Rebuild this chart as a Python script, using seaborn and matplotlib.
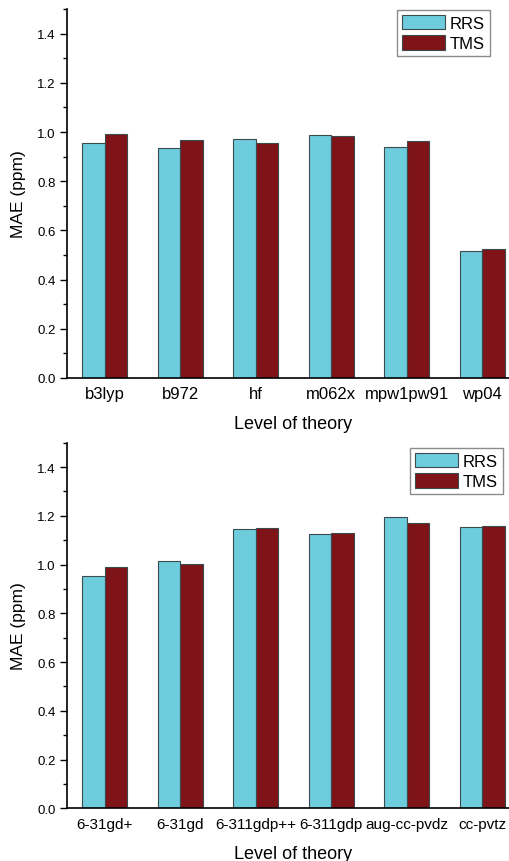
import matplotlib
matplotlib.use("Agg")
import matplotlib.pyplot as plt
import seaborn as sns
import pandas as pd
from matplotlib.ticker import MultipleLocator, FormatStrFormatter
from matplotlib.patches import Patch

sns.set_theme(style="ticks")
plt.rcParams['font.family'] = ['Liberation Sans', 'DejaVu Sans']
plt.rcParams['text.color'] = 'black'
plt.rcParams['axes.labelcolor'] = 'black'
plt.rcParams['xtick.color'] = 'black'
plt.rcParams['ytick.color'] = 'black'

series = ["RRS", "TMS"]
colors = ["#6ECDDC", "#7E1418"]

functionals = ["b3lyp", "b972", "hf", "m062x", "mpw1pw91", "wp04"]
func_rrs = [0.956, 0.936, 0.970, 0.988, 0.941, 0.518]
func_tms = [0.992, 0.967, 0.956, 0.984, 0.962, 0.526]

basis_sets = ["6-31gd+", "6-31gd", "6-311gdp++", "6-311gdp", "aug-cc-pvdz", "cc-pvtz"]
basis_rrs = [0.954, 1.016, 1.144, 1.124, 1.195, 1.155]
basis_tms = [0.991, 1.003, 1.150, 1.128, 1.169, 1.157]

y_label = "MAE (ppm)"
x_label = "Level of theory"


def make_df(cats, rrs, tms):
    return pd.DataFrame({
        "cat": cats * 2,
        "series": [series[0]] * len(cats) + [series[1]] * len(cats),
        "value": list(rrs) + list(tms),
    })


fig = plt.figure(figsize=(5.10, 8.62), dpi=100)
W, H = 510, 862
ax1 = fig.add_axes([67 / W, 1 - 379 / H, 453 / W, 369 / H])
ax2 = fig.add_axes([67 / W, 1 - 809.3 / H, 453 / W, 365.6 / H])

panels = [
    (ax1, make_df(functionals, func_rrs, func_tms), (490 / W, 1 - 10.5 / H), 12),
    (ax2, make_df(basis_sets, basis_rrs, basis_tms), (503 / W, 1 - 448.5 / H), 11),
]

for ax, df, leg_anchor, xfs in panels:
    sns.barplot(data=df, x="cat", y="value", hue="series", palette=colors,
                saturation=1, width=0.6, gap=0, ax=ax, edgecolor="#3c4a4e",
                linewidth=0.8, legend=False)
    ax.set_xlim(-0.5, 5.5)
    ax.set_ylim(0, 1.5)
    ax.set_yticks([0, 0.2, 0.4, 0.6, 0.8, 1.0, 1.2, 1.4])
    ax.yaxis.set_minor_locator(MultipleLocator(0.1))
    ax.yaxis.set_major_formatter(FormatStrFormatter("%.1f"))
    ax.tick_params(axis="y", which="major", direction="out", length=5, width=1,
                   labelsize=9.5, colors="black", pad=3)
    ax.tick_params(axis="y", which="minor", direction="out", length=3, width=1,
                   left=True, colors="black")
    ax.tick_params(axis="x", length=0, labelsize=xfs, pad=6, colors="black")
    sns.despine(ax=ax, top=True, right=True)
    for s in ["left", "bottom"]:
        ax.spines[s].set_linewidth(1.2)
        ax.spines[s].set_color("black")
    ax.set_ylabel(y_label, fontsize=12.5, labelpad=8, color="black")
    ax.set_xlabel(x_label, fontsize=13, labelpad=10, color="black")
    handles = [Patch(facecolor=c, edgecolor="#3c4a4e", linewidth=0.8) for c in colors]
    leg = ax.legend(handles, series, loc="upper right", bbox_to_anchor=leg_anchor,
                    bbox_transform=fig.transFigure, fontsize=12, frameon=True,
                    fancybox=False, edgecolor="#707070", handlelength=2.6,
                    handleheight=1.0, handletextpad=0.3, borderpad=0.3,
                    labelspacing=0.25, borderaxespad=0)
    leg.get_frame().set_linewidth(1.0)

fig.savefig("out.png", dpi=100)
